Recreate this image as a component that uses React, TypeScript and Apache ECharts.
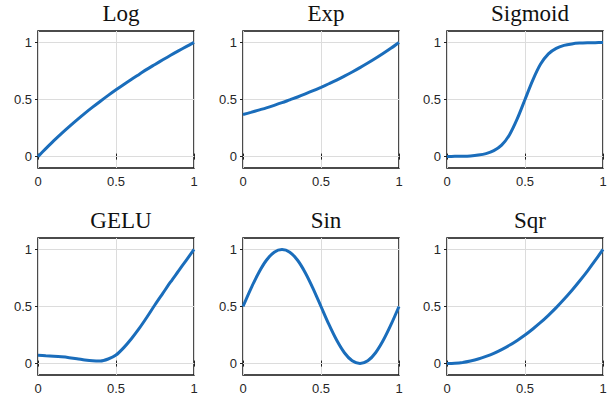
import React, { useEffect, useRef } from "react";
import * as echarts from "echarts";

const titles = ["Log", "Exp", "Sigmoid", "GELU", "Sin", "Sqr"];
const xValues = [0, 0.05, 0.1, 0.15, 0.2, 0.25, 0.3, 0.35, 0.4, 0.45, 0.5, 0.55, 0.6, 0.65, 0.7, 0.75, 0.8, 0.85, 0.9, 0.95, 1];
const logY = [0, 0.07, 0.138, 0.202, 0.263, 0.322, 0.379, 0.433, 0.485, 0.536, 0.585, 0.632, 0.678, 0.722, 0.766, 0.807, 0.848, 0.888, 0.926, 0.963, 1.0];
const expY = [0.368, 0.387, 0.407, 0.427, 0.449, 0.472, 0.497, 0.522, 0.549, 0.577, 0.607, 0.638, 0.67, 0.705, 0.741, 0.779, 0.819, 0.861, 0.905, 0.951, 1.0];
const sigmoidY = [0.001, 0.002, 0.003, 0.006, 0.013, 0.026, 0.052, 0.1, 0.19, 0.33, 0.5, 0.67, 0.81, 0.9, 0.948, 0.974, 0.987, 0.994, 0.997, 0.998, 0.999];
const geluY = [0.072, 0.068, 0.064, 0.059, 0.052, 0.043, 0.032, 0.024, 0.022, 0.04, 0.075, 0.14, 0.22, 0.31, 0.41, 0.515, 0.615, 0.715, 0.81, 0.905, 1.0];
const sinY = [0.5, 0.655, 0.794, 0.905, 0.976, 1.0, 0.976, 0.905, 0.794, 0.655, 0.5, 0.345, 0.206, 0.095, 0.024, 0.0, 0.024, 0.095, 0.206, 0.345, 0.5];
const sqrY = [0, 0.003, 0.01, 0.023, 0.04, 0.063, 0.09, 0.123, 0.16, 0.203, 0.25, 0.303, 0.36, 0.423, 0.49, 0.563, 0.64, 0.723, 0.81, 0.903, 1.0];
const seriesY = [logY, expY, sigmoidY, geluY, sinY, sqrY];
const xTicks = [0, 0.5, 1];
const yTicks = [0, 0.5, 1];

const colLefts = [38, 243, 447];
const rowTops = [31, 238];
const gridW = 156;
const gridH = 137;

export default function App() {
  const ref = useRef<HTMLDivElement>(null);
  useEffect(() => {
    if (!ref.current) return;
    const chart = echarts.init(ref.current, undefined, { renderer: "svg" });
    const grids: any[] = [];
    const xAxes: any[] = [];
    const yAxes: any[] = [];
    const series: any[] = [];
    const title: any[] = [];
    const labelStyle = { fontFamily: "Liberation Sans", fontSize: 13, color: "#262626" };
    titles.forEach((t, i) => {
      const c = i % 3;
      const r = Math.floor(i / 3);
      grids.push({
        left: colLefts[c],
        top: rowTops[r],
        width: gridW,
        height: gridH,
        show: true,
        borderColor: "#111",
        borderWidth: 1.5,
        backgroundColor: "#fff",
      });
      title.push({
        text: t,
        left: colLefts[c] + gridW / 2,
        top: rowTops[r] - 34,
        textAlign: "center",
        textStyle: { fontFamily: "Liberation Serif", fontSize: 23, fontWeight: "normal", color: "#111" },
      });
      const common = { type: "value", gridIndex: i, axisLine: { show: false } };
      xAxes.push({
        ...common,
        position: "bottom",
        min: 0,
        max: 1,
        interval: 0.5,
        axisTick: { show: true, inside: true, length: 3, lineStyle: { color: "#222" } },
        axisLabel: { ...labelStyle, margin: 7, formatter: (v: number) => String(v), customValues: xTicks },
        splitLine: { show: true, lineStyle: { color: "#dcdcdc", width: 1 } },
      });
      xAxes.push({
        ...common,
        position: "top",
        min: 0,
        max: 1,
        interval: 0.5,
        axisTick: { show: true, inside: true, length: 3, lineStyle: { color: "#222" } },
        axisLabel: { show: false },
        splitLine: { show: false },
      });
      yAxes.push({
        ...common,
        position: "left",
        min: -0.1,
        max: 1.1,
        axisTick: { show: true, inside: true, length: 3, customValues: yTicks, lineStyle: { color: "#222" } },
        axisLabel: { ...labelStyle, margin: 6, formatter: (v: number) => String(v), customValues: yTicks },
        splitLine: { show: false },
      });
      yAxes.push({
        ...common,
        position: "right",
        min: -0.1,
        max: 1.1,
        axisTick: { show: true, inside: true, length: 3, customValues: yTicks, lineStyle: { color: "#222" } },
        axisLabel: { show: false },
        splitLine: { show: false },
      });
      series.push({
        type: "line",
        xAxisIndex: i * 2,
        yAxisIndex: i * 2,
        data: xValues.map((x, k) => [x, seriesY[i][k]]),
        smooth: 0.3,
        showSymbol: false,
        symbol: "none",
        lineStyle: { color: "#1a6dbb", width: 3 },
        z: 3,
        markLine: {
          silent: true,
          symbol: "none",
          label: { show: false },
          lineStyle: { color: "#dcdcdc", width: 1, type: "solid" },
          data: yTicks.map((v) => ({ yAxis: v })),
          z: 1,
        },
      });
    });
    chart.setOption({
      animation: false,
      backgroundColor: "#fff",
      title,
      grid: grids,
      xAxis: xAxes,
      yAxis: yAxes,
      series,
    });
    return () => chart.dispose();
  }, []);
  return <div ref={ref} style={{ width: 610, height: 400, position: "absolute", left: 0, top: 0 }} />;
}
